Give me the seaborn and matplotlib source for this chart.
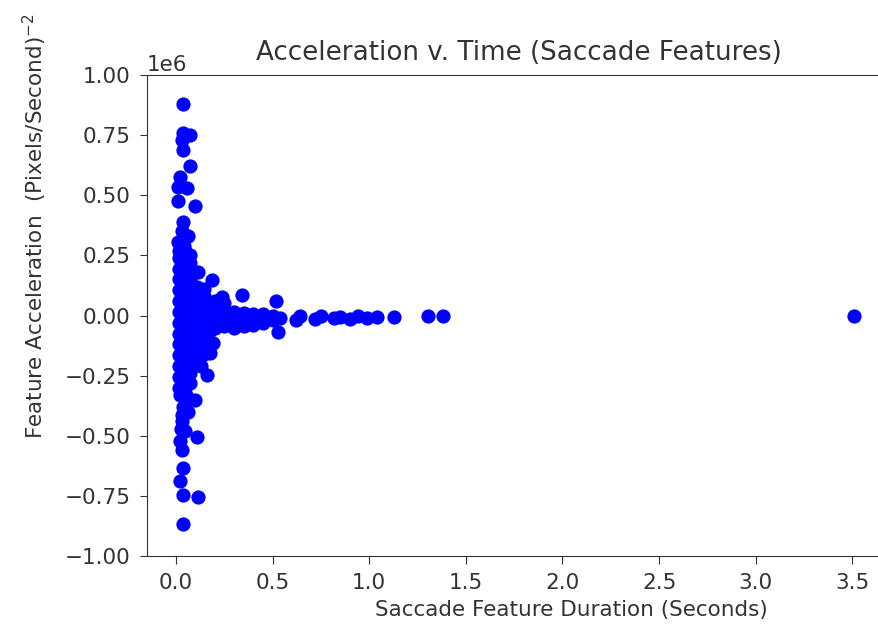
import seaborn as sns
import matplotlib.pyplot as plt
import numpy as np
import pandas as pd

# pontos (duracao em s, aceleracao em milhoes de px/s^2)
# pico vertical (outliers acima e abaixo do nucleo)
spike_x = [0.035, 0.038, 0.072, 0.030, 0.038, 0.072, 0.020, 0.012, 0.055, 0.012, 0.100,
           0.038, 0.064, 0.012, 0.064, 0.098, 0.030, 0.030, 0.020, 0.107, 0.030, 0.038,
           0.020, 0.038, 0.115, 0.038,
           0.020, 0.050, 0.035, 0.060, 0.025, 0.045, 0.040, 0.030]
spike_y = [0.88, 0.76, 0.75, 0.73, 0.69, 0.62, 0.575, 0.535, 0.53, 0.475, 0.455,
           0.39, 0.33, 0.305, -0.35, -0.35, -0.415, -0.44, -0.52, -0.505, -0.56, -0.635,
           -0.69, -0.745, -0.755, -0.865,
           -0.33, -0.33, -0.38, -0.40, -0.47, -0.48, 0.29, 0.35]

# nucleo denso
core_x = [0.015, 0.015, 0.015, 0.015, 0.015, 0.015, 0.015, 0.015, 0.015, 0.015, 0.015, 0.015, 0.015, 0.015,
          0.045, 0.045, 0.045, 0.045, 0.045, 0.045, 0.045, 0.045, 0.045, 0.045, 0.045, 0.045, 0.045, 0.045,
          0.075, 0.075, 0.075, 0.075, 0.075, 0.075, 0.075, 0.075, 0.075, 0.075, 0.075, 0.075, 0.075, 0.075]
core_y = [-0.30, -0.255, -0.21, -0.165, -0.12, -0.075, -0.03, 0.015, 0.06, 0.105, 0.15, 0.195, 0.24, 0.27,
          -0.30, -0.255, -0.21, -0.165, -0.12, -0.075, -0.03, 0.015, 0.06, 0.105, 0.15, 0.195, 0.24, 0.27,
          -0.28, -0.24, -0.20, -0.165, -0.12, -0.075, -0.03, 0.015, 0.06, 0.105, 0.15, 0.19, 0.22, 0.25]

# alargamento em volta do zero
wide_x = [0.11, 0.11, 0.11, 0.11, 0.11, 0.11, 0.11, 0.11, 0.11,
          0.145, 0.145, 0.145, 0.145, 0.145, 0.145, 0.145, 0.145,
          0.185, 0.19, 0.175, 0.16, 0.17, 0.115, 0.13, 0.237,
          0.20, 0.20, 0.20, 0.20, 0.25, 0.25, 0.25, 0.25, 0.30, 0.30, 0.30, 0.34,
          0.35, 0.35, 0.35, 0.40, 0.40, 0.40, 0.45, 0.45, 0.45, 0.50, 0.50, 0.52, 0.53]
wide_y = [-0.20, -0.16, -0.12, -0.08, -0.04, 0.0, 0.04, 0.08, 0.12,
          -0.16, -0.12, -0.08, -0.04, 0.0, 0.04, 0.08, 0.11,
          0.148, -0.115, -0.157, -0.247, -0.07, 0.18, -0.21, 0.078,
          -0.05, -0.01, 0.03, 0.06, -0.045, -0.01, 0.02, 0.05, -0.05, -0.015, 0.015, 0.085,
          -0.045, -0.015, 0.01, -0.04, -0.015, 0.005, -0.03, -0.01, 0.005, -0.02, 0.0, 0.06, -0.067]

# cauda horizontal
tail_x = [0.54, 0.62, 0.64, 0.72, 0.75, 0.82, 0.85, 0.90, 0.94, 0.99, 1.04, 1.13, 1.306, 1.38, 3.51]
tail_y = [-0.01, -0.02, 0.0, -0.015, 0.0, -0.01, -0.005, -0.015, 0.0, -0.01, -0.005, -0.005, 0.0, 0.0, 0.0]

df = pd.DataFrame({
    'duracao': spike_x + core_x + wide_x + tail_x,
    'aceleracao': np.array(spike_y + core_y + wide_y + tail_y) * 1e6,
})

cor_texto = '#333333'
fig = plt.figure(figsize=(8.79, 6.26), dpi=100)
ax = fig.add_axes([147 / 879, 1 - 556 / 626, (891 - 147) / 879, (556 - 75) / 626])
sns.scatterplot(data=df, x='duracao', y='aceleracao', color='blue', s=105, linewidth=0, ax=ax)
ax.set_xlim(-0.15, 3.70)
ax.set_ylim(-1e6, 1e6)
ax.set_xticks([0.0, 0.5, 1.0, 1.5, 2.0, 2.5, 3.0, 3.5])
ax.tick_params(labelsize=15.5, colors=cor_texto)
ax.tick_params(axis='x', length=5.8, pad=6.5)
ax.tick_params(axis='y', length=5, pad=7)
for s in ax.spines.values():
    s.set_color(cor_texto)
ax.yaxis.get_offset_text().set_fontsize(15.5)
ax.yaxis.get_offset_text().set_color(cor_texto)
ax.set_title("Acceleration v. Time (Saccade Features)", fontsize=18.8, color=cor_texto, pad=11)
ax.set_xlabel("Saccade Feature Duration (Seconds)", fontsize=15.5, color=cor_texto)
ax.set_ylabel("Feature Acceleration  (Pixels/Second)$^{-2}$", fontsize=15.5, color=cor_texto)
ax.xaxis.set_label_coords(0.571, -0.0915)
ax.yaxis.set_label_coords(-0.132, 0.686)
fig.savefig("out.png", dpi=100)
